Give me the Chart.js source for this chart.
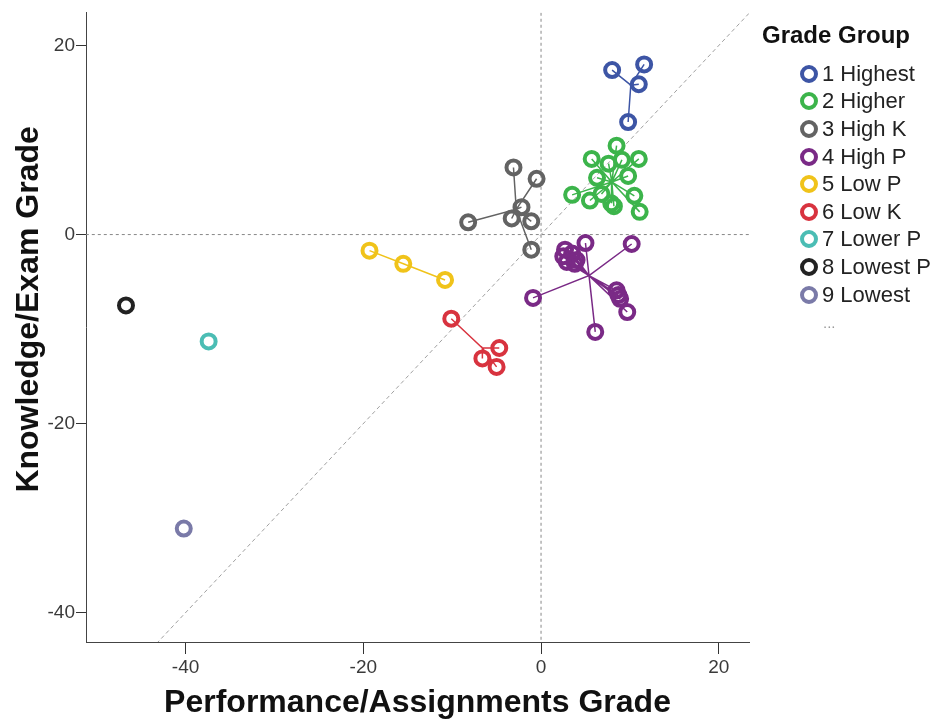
<!DOCTYPE html>
<html>
<head>
<meta charset="utf-8">
<script src="https://cdn.jsdelivr.net/npm/chart.js@4.4.1/dist/chart.umd.min.js"></script>
<style>
  body { margin: 0; background: #fff; }
  #wrap { position: relative; width: 932px; height: 722px; }
  #legend { position: absolute; left: 762px; top: 21px; font-family: "Liberation Sans", Arial, sans-serif; color: #222; }
  #legend .title { font-size: 24px; font-weight: bold; line-height: 28px; margin-bottom: 11px; color: #111; }
  #legend .row { display: flex; align-items: center; height: 27.6px; margin-left: 38px; font-size: 22px; }
  #legend .mk { width: 10px; height: 10px; border: 4px solid; border-radius: 50%; margin-right: 4px; }
  #legend .more { font-size: 15px; color: #999; margin-left: 23px; }
</style>
</head>
<body>
<div id="wrap">
  <canvas id="chart" width="932" height="722"></canvas>
  <div id="legend"></div>
</div>
<script>
// grade groups and their colours
const groups = ["1 Highest", "2 Higher", "3 High K", "4 High P", "5 Low P", "6 Low K", "7 Lower P", "8 Lowest P", "9 Lowest"];
const colors = ["#3d55a5", "#3cb44b", "#636363", "#7a2a86", "#f0c31a", "#d8333f", "#4bbdb4", "#222222", "#7a7aa8"];

// [performance, knowledge] per student
const highest = [[8.0, 17.4], [11.6, 18.0], [11.0, 15.9], [9.8, 11.9]];
const higher = [[8.5, 9.4], [5.7, 8.0], [7.6, 7.5], [9.1, 7.9], [11.0, 8.0], [6.3, 6.0], [9.8, 6.2],
  [3.5, 4.2], [5.5, 3.6], [6.8, 4.3], [8.2, 3.0], [7.9, 3.3], [10.5, 4.1], [11.1, 2.4]];
const highK = [[-3.1, 7.1], [-0.5, 5.9], [-2.2, 2.9], [-3.3, 1.7], [-1.1, 1.4], [-8.2, 1.3], [-1.1, -1.6]];
const highP = [[5.0, -0.9], [10.2, -1.0], [2.7, -1.6], [3.5, -2.0], [2.5, -2.3], [4.0, -2.7], [2.9, -2.9],
  [3.8, -3.1], [8.5, -5.9], [8.7, -6.4], [8.9, -6.8], [9.7, -8.2], [-0.9, -6.7], [6.1, -10.3]];
const lowP = [[-19.3, -1.7], [-15.5, -3.1], [-10.8, -4.8]];
const lowK = [[-10.1, -8.9], [-4.7, -12.0], [-6.6, -13.1], [-5.0, -14.0]];
const lowerP = [[-37.4, -11.3]];
const lowestP = [[-46.7, -7.5]];
const lowest = [[-40.2, -31.1]];
const members = [highest, higher, highK, highP, lowP, lowK, lowerP, lowestP, lowest];

// axes
const xTicks = [-40, -20, 0, 20];
const yTicks = [-40, -20, 0, 20];
const xRange = [-51.2, 23.4];
const yRange = [-43.1, 23.5];
const diagonal = [[-60, -60], [40, 40]];
const zeroV = [[0, -60], [0, 40]];
const zeroH = [[-60, 0], [40, 0]];

const pts = arr => arr.map(p => ({ x: p[0], y: p[1] }));
const mean = (arr, i) => arr.reduce((s, p) => s + p[i], 0) / arr.length;

const datasets = [];
members.forEach((m, g) => {
  datasets.push({
    label: groups[g],
    data: pts(m),
    order: 0,
    pointRadius: 7,
    pointBorderWidth: 4,
    pointBorderColor: colors[g],
    pointBackgroundColor: "rgba(255,255,255,0)"
  });
});
// spikes to group centroid
members.forEach((m, g) => {
  if (m.length < 2) return;
  const c = [mean(m, 0), mean(m, 1)];
  datasets.push({
    data: pts(m.flatMap(p => [c, p])),
    order: 1,
    showLine: true,
    borderColor: colors[g],
    borderWidth: 1.5,
    pointRadius: 0
  });
});
[[diagonal, "#a0a0a0", [4, 3]], [zeroV, "#888", [3, 3]], [zeroH, "#888", [3, 3]]].forEach(r => {
  datasets.push({
    data: pts(r[0]),
    order: 2,
    showLine: true,
    borderColor: r[1],
    borderWidth: 1,
    borderDash: r[2],
    pointRadius: 0
  });
});

const tickFont = { family: '"Liberation Sans Narrow", "Liberation Sans", Arial, sans-serif', size: 19 };
const titleFont = { family: '"Liberation Sans", Arial, sans-serif', size: 32, weight: "bold" };

new Chart(document.getElementById("chart"), {
  type: "scatter",
  data: { datasets: datasets },
  options: {
    responsive: false,
    animation: false,
    events: [],
    layout: { padding: { top: 11, right: 183, left: 0, bottom: 0 } },
    plugins: { legend: { display: false }, tooltip: { enabled: false } },
    scales: {
      x: {
        min: xRange[0], max: xRange[1],
        afterBuildTicks: s => { s.ticks = xTicks.map(v => ({ value: v })); },
        afterFit: s => { s.height = 80; },
        grid: { drawOnChartArea: false, tickLength: 12, tickColor: "#333" },
        border: { color: "#444" },
        ticks: { font: tickFont, color: "#3a3a3a", padding: 2 },
        title: { display: true, text: "Performance/Assignments Grade", font: titleFont, color: "#111", padding: { top: 0, bottom: 0 } }
      },
      y: {
        min: yRange[0], max: yRange[1],
        afterBuildTicks: s => { s.ticks = yTicks.map(v => ({ value: v })); },
        afterFit: s => { s.width = 86; },
        grid: { drawOnChartArea: false, tickLength: 10, tickColor: "#333" },
        border: { color: "#444" },
        ticks: { font: tickFont, color: "#3a3a3a", padding: 1 },
        // leading spaces lift the title a little above the axis middle, as in the original
        title: { display: true, text: "    Knowledge/Exam Grade", font: titleFont, color: "#111", padding: { top: 10, bottom: 0 } }
      }
    }
  }
});

// legend
const legend = document.getElementById("legend");
legend.innerHTML = '<div class="title">Grade Group</div>' +
  groups.map((g, i) => '<div class="row"><span class="mk" style="border-color:' + colors[i] + '"></span>' + g + '</div>').join("") +
  '<div class="row"><span class="more">...</span></div>';
</script>
</body>
</html>
